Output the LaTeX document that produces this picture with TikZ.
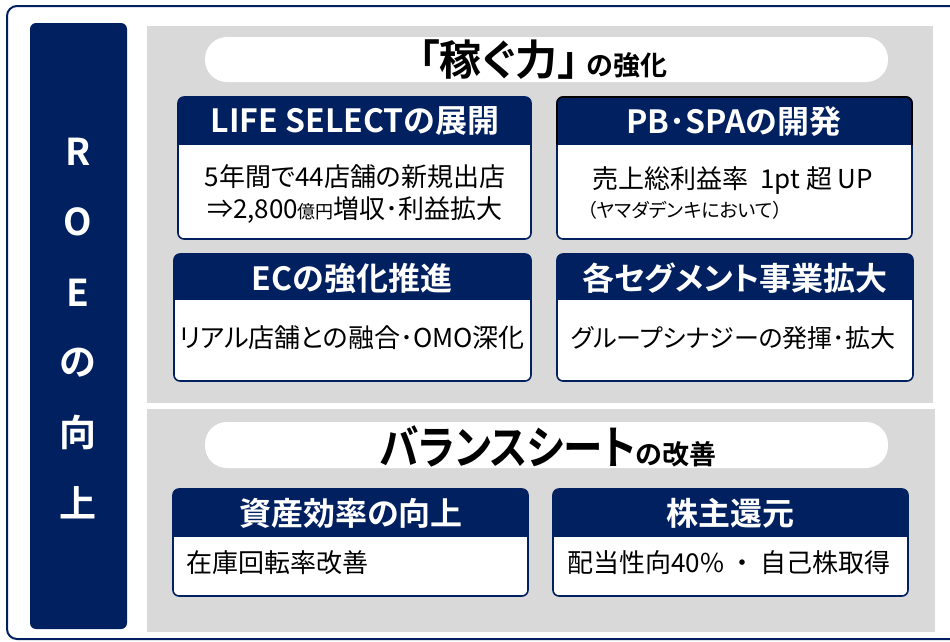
\documentclass[tikz,border=0pt]{standalone}
\usepackage{graphicx}
\usepackage{fontspec}
\setmainfont{Noto Sans CJK JP}[BoldFont={Noto Sans CJK JP Bold}, RawFeature=+palt]
\definecolor{navy}{RGB}{0,32,96}
\definecolor{panel}{RGB}{217,217,217}
\tikzset{
  roe/.style={text=white, font=\bfseries\fontsize{37}{40}\selectfont},
  head/.style={text=white, font=\bfseries\fontsize{32}{34}\selectfont},
  body/.style={font=\fontsize{26}{32}\selectfont, align=center},
  pill/.style={fill=white, rounded corners=22},
}
% card: x1, y1, x2, y2, bottom of header
\newcommand\card[5]{%
  \begin{scope}
    \clip[rounded corners=6] (#1,#2) rectangle (#3,#4);
    \fill[white] (#1,#2) rectangle (#3,#4);
    \fill[navy] (#1,#2) rectangle (#3,#5);
  \end{scope}
  \draw[navy, line width=1.6, rounded corners=6] (#1,#2) rectangle (#3,#4);
}
\begin{document}
\begin{tikzpicture}[x=1pt, y=-1pt]
    \useasboundingbox (0,0) rectangle (950,641);
    \clip (0,0) rectangle (950,641);
    \draw[navy, line width=2, rounded corners=10] (7,6) rectangle (980,639);

    % left bar
    \fill[navy, rounded corners=6] (30,23) rectangle (127,629);
    \foreach \c [count=\i] in {R,O,E,の,向,上}
        \node[roe] (roe\i) at (78, 152+70.2*\i-70.2) {\c};

    % grey panels
    \fill[panel] (147,26) rectangle (933,403);
    \fill[panel] (147,409) rectangle (935,632);

    % earning power
    \fill[pill] (205,37) rectangle (888,82);
    \node (earn) at (543,60) {\bfseries\fontsize{42}{44}\selectfont 「稼ぐ力」\hspace{8pt}\fontsize{27}{30}\selectfont の強化};

    \card{178}{97}{531}{239}{145}
    \node[head] (life) at (355,121) {LIFE SELECTの展開};
    \node[body] (lifetxt) at (355,194) {5年間で44店舗の新規出店\\⇒2,800{\fontsize{18}{20}\selectfont 億円}増収･利益拡大};

    \card{557}{97}{912}{239}{145}
    \draw[black, line width=1.6, rounded corners=6] (557,145) |- (912,97) -- (912,145);
    \node[head] (pb) at (734,121) {PB･SPAの開発};
    \node[body] (pbtxt) at (733,181) {売上総利益率\ \ 1pt\ 超\ UP};
    \node[font=\fontsize{19}{20}\selectfont] (pbnote) at (685,210) {（ヤマダデンキにおいて）};

    \card{174}{254}{531}{381}{300}
    \node[head] (ec) at (352,278) {ECの強化推進};
    \node[body] (ectxt) at (352,338) {リアル店舗との融合･OMO深化};

    \card{557}{254}{913}{381}{300}
    \node[head] (seg) at (735,278) {各セグメント事業拡大};
    \node[body, font=\fontsize{25}{32}\selectfont] (segtxt) at (733,338) {グループシナジーの発揮･拡大};

    % balance sheet
    \fill[pill] (205,422) rectangle (888,468);
    \node (bs) at (548,446) {\bfseries\scalebox{0.86}[1]{\fontsize{46}{48}\selectfont バランスシート}\fontsize{27}{30}\selectfont の改善};

    \card{173}{489}{528}{596}{537}
    \node[head] (asset) at (351,513) {資産効率の向上};
    \node[body, anchor=west] (assettxt) at (183,563) {在庫回転率改善};

    \card{553}{489}{908}{596}{537}
    \node[head] (share) at (730,513) {株主還元};
    \node[body] (sharetxt) at (729,563) {配当性向40\%\ \ ・\ \ 自己株取得};
\end{tikzpicture}
\end{document}
